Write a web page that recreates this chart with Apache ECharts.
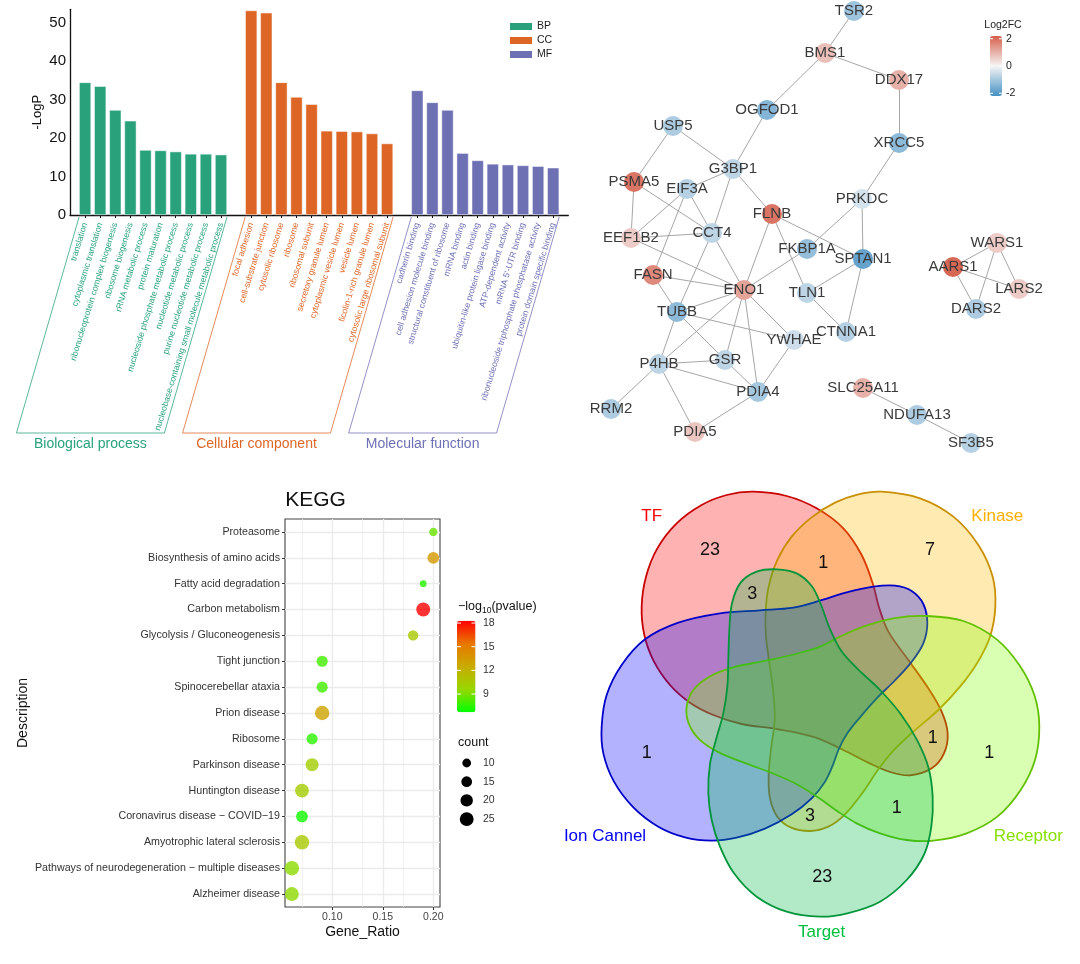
<!DOCTYPE html>
<html><head><meta charset="utf-8">
<script src="https://cdn.jsdelivr.net/npm/echarts@6/dist/echarts.min.js"></script>
<style>html,body{margin:0;padding:0;background:#fff}#c{width:1080px;height:964px}</style>
</head><body><div id="c"></div>
<script>
// ---------------- GO bar chart data ----------------
const bpTerms = ['translation','cytoplasmic translation','ribonucleoprotein complex biogenesis','ribosome biogenesis','rRNA metabolic process','protein maturation','nucleoside phosphate metabolic process','nucleotide metabolic process','purine nucleotide metabolic process','nucleobase-containing small molecule metabolic process'];
const bpValues = [34.5,33.5,27.3,24.5,16.9,16.8,16.5,15.9,15.9,15.7];
const ccTerms = ['focal adhesion','cell-substrate junction','cytosolic ribosome','ribosome','ribosomal subunit','secretory granule lumen','cytoplasmic vesicle lumen','vesicle lumen','ficolin-1-rich granule lumen','cytosolic large ribosomal subunit'];
const ccValues = [53.2,52.6,34.5,30.7,28.8,21.9,21.8,21.7,21.2,18.6];
const mfTerms = ['cadherin binding','cell adhesion molecule binding','structural constituent of ribosome','mRNA binding','actin binding','ubiquitin-like protein ligase binding','ATP-dependent activity',"mRNA 5'-UTR binding",'ribonucleoside triphosphate phosphatase activity','protein domain specific binding'];
const mfValues = [32.4,29.3,27.3,16.1,14.2,13.3,13.1,12.9,12.7,12.3];
const groupKeys = ['BP','CC','MF'];
const groupTitles = ['Biological process','Cellular component','Molecular function'];
const yTicksBar = [0,10,20,30,40,50];

// ---------------- Network data ----------------
const nodeNames = ['TSR2','BMS1','DDX17','OGFOD1','USP5','XRCC5','G3BP1','PSMA5','EIF3A','PRKDC','FLNB','CCT4','EEF1B2','FKBP1A','SPTAN1','AARS1','WARS1','FASN','ENO1','TLN1','LARS2','DARS2','TUBB','CTNNA1','YWHAE','GSR','P4HB','PDIA4','SLC25A11','NDUFA13','RRM2','PDIA5','SF3B5'];
const nodeX = [854,825,899,767,673,899,733,634,687,862,772,712,631,807,863,953,997,653,744,807,1019,976,677,846,794,725,659,758,863,917,611,695,971];
const nodeY = [11,53,80,110,126,143,169,182,189,199,214,233,238,249,259,267,243,275,290,293,289,309,312,332,340,360,364,392,388,415,409,432,443];
const nodeLog2FC = [-1.1,0.8,1.0,-1.4,-0.9,-1.3,-0.7,1.9,-0.8,-0.4,1.9,-0.7,0.6,-1.2,-1.8,2.1,0.6,1.6,1.2,-0.7,0.6,-0.9,-1.3,-0.8,-0.5,-0.7,-0.7,-1.0,1.0,-0.9,-0.9,0.7,-0.8];
const edgeFrom = ['TSR2','BMS1','BMS1','DDX17','OGFOD1','XRCC5','USP5','USP5','G3BP1','G3BP1','G3BP1','PSMA5','PSMA5','EIF3A','EIF3A','EIF3A','EEF1B2','EEF1B2','CCT4','CCT4','FLNB','FLNB','FLNB','PRKDC','PRKDC','FKBP1A','SPTAN1','SPTAN1','TLN1','FASN','FASN','ENO1','ENO1','ENO1','ENO1','ENO1','TUBB','TUBB','TUBB','YWHAE','P4HB','P4HB','P4HB','P4HB','PDIA4','GSR','WARS1','WARS1','WARS1','AARS1','AARS1','SLC25A11','NDUFA13'];
const edgeTo   = ['BMS1','DDX17','OGFOD1','XRCC5','G3BP1','PRKDC','PSMA5','G3BP1','EIF3A','CCT4','FLNB','EEF1B2','CCT4','EEF1B2','CCT4','FASN','CCT4','ENO1','ENO1','TUBB','ENO1','SPTAN1','TLN1','FKBP1A','SPTAN1','ENO1','TLN1','CTNNA1','CTNNA1','ENO1','TUBB','TUBB','P4HB','GSR','PDIA4','YWHAE','YWHAE','P4HB','GSR','PDIA4','GSR','PDIA4','RRM2','PDIA5','PDIA5','PDIA4','AARS1','DARS2','LARS2','LARS2','DARS2','NDUFA13','SF3B5'];
const fcTicks = [2,0,-2];

// ---------------- KEGG data ----------------
const keggTerms = ['Proteasome','Biosynthesis of amino acids','Fatty acid degradation','Carbon metabolism','Glycolysis / Gluconeogenesis','Tight junction','Spinocerebellar ataxia','Prion disease','Ribosome','Parkinson disease','Huntington disease','Coronavirus disease \u2212 COVID\u221219','Amyotrophic lateral sclerosis','Pathways of neurodegeneration \u2212 multiple diseases','Alzheimer disease'];
const keggRatio = [0.20,0.20,0.19,0.19,0.18,0.09,0.09,0.09,0.08,0.08,0.07,0.07,0.07,0.06,0.06];
const keggLogP = [8.7,13.5,7.3,18.3,10.5,7.9,7.9,13.0,7.5,10.2,10.3,7.0,10.5,9.3,9.4];
const keggCount = [9,18,6,25,14,16,16,27,16,22,25,18,27,27,25];
const keggXTicks = [0.10,0.15,0.20];
const keggXMinor = [0.075,0.125,0.175];
const pTicks = [18,15,12,9];
const countTicks = [10,15,20,25];

// ---------------- Venn data ----------------
const vennSetNames = ['TF','Kinase','Ion Cannel','Receptor','Target'];
const vennCounts = [23,1,7,3,1,1,1,1,3,23];
const vennCountX = [390,730,1050,517,200,1058,1228,950,690,727];
const vennCountY = [210,250,210,343,820,775,818,985,1008,1192];
const vennNameX = [215,1252,75,1345,725];
const vennNameY = [110,110,1068,1068,1357];
// outline points of each set (venn drawing units)
const vennShapeTF = [[520,35],[620,48],[710,85],[790,145],[845,225],[878,310],[898,385],[925,455],[985,540],[1045,625],[1085,695],[1103,760],[1092,820],[1055,865],[990,886],[930,876],[865,848],[790,810],[705,772],[590,747],[485,732],[400,705],[330,668],[270,615],[222,545],[193,465],[185,380],[198,290],[232,205],[290,130],[365,75],[440,45]];
const vennShapeKinase = [[905,35],[1020,55],[1120,110],[1195,195],[1238,290],[1246,380],[1230,470],[1192,548],[1140,620],[1075,690],[1000,755],[940,812],[895,868],[850,935],[795,1003],[745,1040],[690,1053],[632,1042],[592,1010],[570,955],[566,885],[574,800],[584,720],[580,640],[569,555],[558,470],[557,395],[566,320],[592,240],[635,170],[695,112],[765,68],[835,43]];
const vennShapeIon = [[65,740],[80,645],[125,555],[195,478],[295,428],[420,400],[540,391],[640,383],[720,362],[800,337],[880,320],[945,317],[995,333],[1030,372],[1042,430],[1030,490],[993,548],[943,603],[890,655],[840,712],[802,760],[776,808],[758,857],[735,905],[695,955],[635,1003],[555,1046],[470,1073],[395,1082],[315,1072],[235,1040],[160,982],[102,905],[70,820]];
const vennShapeReceptor = [[1040,408],[1150,423],[1250,478],[1320,558],[1364,648],[1378,740],[1365,840],[1322,930],[1252,1010],[1160,1060],[1060,1082],[980,1080],[900,1060],[830,1030],[770,992],[718,955],[655,915],[578,880],[498,850],[418,818],[358,778],[326,730],[320,680],[340,630],[388,590],[460,562],[558,542],[648,522],[720,500],[780,470],[850,440],[940,415]];
const vennShapeTarget = [[590,268],[650,280],[695,318],[722,372],[748,442],[782,510],[832,566],[900,630],[962,702],[1012,782],[1045,862],[1058,950],[1054,1040],[1033,1122],[980,1200],[900,1265],[802,1300],[720,1310],[620,1295],[530,1250],[462,1180],[420,1100],[395,1020],[385,940],[390,852],[410,772],[430,700],[442,620],[445,540],[448,450],[456,370],[482,308],[530,275]];

// ---------------- styling constants ----------------
const FONT = "'Liberation Sans', Arial, Helvetica, sans-serif";
const groupColors = ['#29A27C','#DD6626','#6E70B4'];
const vennFill = ['rgba(255,0,0,0.3)','rgba(255,188,0,0.3)','rgba(0,0,255,0.3)','rgba(128,255,0,0.3)','rgba(0,185,72,0.3)'];
const vennStroke = ['#c80000','#c98f00','#0000c8','#62c000','#00953a'];
const vennNameColor = ['#ff0000','#ffb000','#0000ee','#88e000','#00c040'];
const vennShapes = [vennShapeTF, vennShapeKinase, vennShapeIon, vennShapeReceptor, vennShapeTarget];
const gradKegg = ['#00FF00','#98D700','#C9AB00','#E87700','#FF0000'];
const gradFC = ['#4591c4','#f5f5f5','#d6604d'];
const pMin = 6.68, pMax = 18.3, fcMin = -2.2, fcMax = 2.2;
const sizeOf = c => 2.78 * Math.sqrt(c);

// build bar categories with blank separators
const groupTerms = [bpTerms, ccTerms, mfTerms];
const groupValues = [bpValues, ccValues, mfValues];
const barCats = [' '];
const barGroupOf = [-1];
groupTerms.forEach((terms, gi) => {
  terms.forEach(t => { barCats.push(t); barGroupOf.push(gi); });
  barCats.push(' '.repeat(gi + 2)); barGroupOf.push(-1);
});

const barSeries = groupKeys.map((k, gi) => ({
  type: 'bar', name: k, xAxisIndex: 0, yAxisIndex: 0, barWidth: 12, barGap: '-100%', silent: true,
  itemStyle: { color: groupColors[gi], borderColor: 'rgba(255,255,255,0.8)', borderWidth: 0.6 },
  data: groupTerms[gi].map((t, i) => [barCats.indexOf(t), groupValues[gi][i]])
}));

const nxMin = Math.min(...nodeX), nxMax = Math.max(...nodeX);
const nyMin = Math.min(...nodeY), nyMax = Math.max(...nodeY);

const chart = echarts.init(document.getElementById('c'));
const option = {
  animation: false,
  backgroundColor: '#fff',
  textStyle: { fontFamily: FONT },
  legend: {
    data: groupKeys, orient: 'vertical', left: 505, top: 16, itemWidth: 22, itemHeight: 7, itemGap: 3,
    icon: 'rect', selectedMode: false, textStyle: { fontSize: 10.5, color: '#222', fontFamily: FONT },
    itemStyle: { borderWidth: 0 }
  },
  grid: [
    { left: 70, top: 9.3, width: 33 * 15.1, height: 205.7 },
    { left: 285, top: 519, width: 155, height: 388, show: true, borderColor: '#444', borderWidth: 1.1, backgroundColor: '#fff' },
    { left: 580, top: 480, width: 500, height: 480, show: false }
  ],
  xAxis: [
    { type: 'category', gridIndex: 0, data: barCats, boundaryGap: false,
      axisLine: { lineStyle: { color: '#111', width: 1.3 } },
      axisTick: { length: 3, lineStyle: { color: '#111' }, interval: (i) => barGroupOf[i] >= 0 },
      axisLabel: { interval: 0, rotate: 73, fontSize: 8.6, margin: 8, color: (v, i) => { const gi = barGroupOf[barCats.indexOf(v)]; return gi >= 0 ? groupColors[gi] : '#fff'; } },
      splitLine: { show: false } },
    { type: 'value', gridIndex: 1, min: 0.0532, max: 0.2066,
      axisLine: { show: false },
      axisTick: { show: true, length: 3, lineStyle: { color: '#333' }, customValues: keggXTicks },
      axisLabel: { customValues: keggXTicks, formatter: v => v.toFixed(2), fontSize: 10.5, color: '#444', margin: 5 },
      splitLine: { show: false },
      name: 'Gene_Ratio', nameLocation: 'middle', nameGap: 18, nameTextStyle: { fontSize: 14, color: '#111' } },
    { type: 'value', gridIndex: 2, min: 0, max: 1500, show: false }
  ],
  yAxis: [
    { type: 'value', gridIndex: 0, min: 0, max: 53.5, interval: 10,
      axisLine: { show: true, lineStyle: { color: '#111', width: 1.3 } },
      axisTick: { show: false },
      axisLabel: { fontSize: 15, color: '#111', margin: 4, formatter: v => (yTicksBar.indexOf(v) >= 0 ? String(v) : '') },
      splitLine: { show: false },
      name: '-LogP', nameLocation: 'middle', nameGap: 26, nameTextStyle: { fontSize: 13, color: '#111' } },
    { type: 'category', gridIndex: 1, data: keggTerms, inverse: true,
      axisLine: { show: false },
      axisTick: { show: true, alignWithLabel: true, length: 3, lineStyle: { color: '#333' } },
      axisLabel: { interval: 0, fontSize: 10.7, color: '#333', margin: 5 },
      splitLine: { show: false },
      name: 'Description', nameLocation: 'middle', nameGap: 255, nameTextStyle: { fontSize: 14, color: '#111' } },
    { type: 'value', gridIndex: 2, min: 0, max: 1440, inverse: true, show: false }
  ],
  visualMap: [
    { type: 'continuous', seriesIndex: 3, min: fcMin, max: fcMax, inRange: { color: gradFC },
      left: 990, top: 36, itemWidth: 12, itemHeight: 60, calculable: false, padding: 0, orient: 'vertical' },
    { type: 'continuous', seriesIndex: 4, dimension: 2, min: pMin, max: pMax, inRange: { color: gradKegg },
      left: 457, top: 620.7, itemWidth: 18.5, itemHeight: 91.6, calculable: false, padding: 0, orient: 'vertical' }
  ],
  series: [
    ...barSeries,
    { type: 'graph', layout: 'none', left: nxMin, top: nyMin, width: nxMax - nxMin, height: nyMax - nyMin,
      roam: false, silent: true, symbol: 'circle', symbolSize: 20,
      label: { show: true, position: 'inside', fontSize: 15, color: '#3a3a3a', fontFamily: FONT },
      lineStyle: { color: '#a6a6a6', width: 1, opacity: 1, curveness: 0 },
      emphasis: { disabled: true },
      data: nodeNames.map((n, i) => ({ name: n, x: nodeX[i], y: nodeY[i], value: nodeLog2FC[i] })),
      links: edgeFrom.map((s, i) => ({ source: s, target: edgeTo[i] })) },
    { type: 'scatter', xAxisIndex: 1, yAxisIndex: 1, silent: true, z: 3,
      symbolSize: v => sizeOf(v[3]),
      data: keggTerms.map((t, i) => [keggRatio[i], i, keggLogP[i], keggCount[i]]),
      markLine: { silent: true, z: 1, symbol: ['none', 'none'], label: { show: false },
        lineStyle: { color: '#ebebeb', type: 'solid', width: 1.3 },
        data: [
          ...keggXTicks.map(v => ({ xAxis: v })),
          ...keggXMinor.map(v => ({ xAxis: v, lineStyle: { width: 0.8, color: '#ededed', type: 'solid' } })),
          ...keggTerms.map(t => ({ yAxis: t }))
        ] } },
    { type: 'custom', xAxisIndex: 2, yAxisIndex: 2, silent: true, clip: false,
      data: vennSetNames.map((n, i) => [i, 0]),
      renderItem: (params, api) => {
        const i = params.dataIndex;
        const pts = vennShapes[i].map(p => api.coord(p));
        return { type: 'polygon', shape: { points: pts, smooth: 0.35 },
          style: { fill: vennFill[i], stroke: vennStroke[i], lineWidth: 1.8 } };
      } },
    { type: 'custom', xAxisIndex: 2, yAxisIndex: 2, silent: true, clip: false, z: 5,
      data: vennCounts.map((c, i) => [vennCountX[i], vennCountY[i], c]),
      renderItem: (params, api) => {
        const p = api.coord([api.value(0), api.value(1)]);
        return { type: 'text', x: p[0], y: p[1],
          style: { text: String(api.value(2)), fill: '#111', fontSize: 18, fontFamily: FONT, align: 'center', verticalAlign: 'middle', textAlign: 'center', textVerticalAlign: 'middle' } };
      } },
    { type: 'custom', xAxisIndex: 2, yAxisIndex: 2, silent: true, clip: false, z: 5,
      data: vennSetNames.map((n, i) => [vennNameX[i], vennNameY[i], i]),
      renderItem: (params, api) => {
        const i = params.dataIndex;
        const p = api.coord([api.value(0), api.value(1)]);
        return { type: 'text', x: p[0], y: p[1],
          style: { text: vennSetNames[i], fill: vennNameColor[i], fontSize: 17, fontFamily: FONT, align: 'center', verticalAlign: 'middle', textAlign: 'center', textVerticalAlign: 'middle' } };
      } }
  ]
};
chart.setOption(option);

// ---------- annotations computed from the chart's own scales ----------
const G = [];
const txt = (x, y, text, size, color, align, extra) => ({ type: 'text', x, y, silent: true, z: 10,
  style: Object.assign({ text, fill: color, fontSize: size, fontFamily: FONT, align: align || 'left', textAlign: align || 'left', verticalAlign: 'middle', textVerticalAlign: 'middle' }, extra || {}) });

// GO brackets and group titles
const yBase = chart.convertToPixel({ yAxisIndex: 0 }, 0);
groupTerms.forEach((terms, gi) => {
  const xl = chart.convertToPixel({ xAxisIndex: 0 }, barCats.indexOf(terms[0])) - 6;
  const xr = chart.convertToPixel({ xAxisIndex: 0 }, barCats.indexOf(terms[terms.length - 1])) + 6;
  const yt = yBase + 2, yb = 433, d = (yb - yt) * 0.29;
  G.push({ type: 'polyline', silent: true, shape: { points: [[xl, yt], [xl - d, yb], [xr - d, yb], [xr, yt]] },
    style: { stroke: groupColors[gi], lineWidth: 0.9, fill: null, opacity: 0.85 } });
  G.push(txt((xl + xr) / 2 - d, 444, groupTitles[gi], 14, groupColors[gi], 'center'));
});

// Log2FC legend
G.push(txt(1003, 25, 'Log2FC', 10.5, '#222', 'center'));
fcTicks.forEach(v => {
  const y = 36 + (fcMax - v) / (fcMax - fcMin) * 60;
  G.push(txt(1006, y, String(v), 10.5, '#222', 'left'));
  G.push({ type: 'line', silent: true, z: 10, shape: { x1: 990, y1: y, x2: 993, y2: y }, style: { stroke: '#fff', lineWidth: 1 } });
  G.push({ type: 'line', silent: true, z: 10, shape: { x1: 999, y1: y, x2: 1002, y2: y }, style: { stroke: '#fff', lineWidth: 1 } });
});

// KEGG title
G.push(txt(315.5, 500, 'KEGG', 21, '#111', 'center'));

// -log10(pvalue) legend (main text + subscript)
G.push({ type: 'text', x: 458, y: 607, silent: true, z: 10,
  style: { text: '{a|\u2212log}{s|10}{a|(pvalue)}', fontFamily: FONT, verticalAlign: 'middle', textVerticalAlign: 'middle',
    rich: { a: { fontSize: 12.5, fill: '#111', lineHeight: 16, verticalAlign: 'middle', fontFamily: FONT },
            s: { fontSize: 8.5, fill: '#111', lineHeight: 8, verticalAlign: 'bottom', fontFamily: FONT } } } });
pTicks.forEach(v => {
  const y = 620.7 + (pMax - v) / (pMax - pMin) * 91.6;
  G.push(txt(483, y, String(v), 10.5, '#333', 'left'));
  G.push({ type: 'line', silent: true, z: 10, shape: { x1: 457, y1: y, x2: 461, y2: y }, style: { stroke: '#fff', lineWidth: 1 } });
  G.push({ type: 'line', silent: true, z: 10, shape: { x1: 471.5, y1: y, x2: 475.5, y2: y }, style: { stroke: '#fff', lineWidth: 1 } });
});

// count legend
G.push(txt(458, 743, 'count', 12.5, '#111', 'left'));
countTicks.forEach((v, i) => {
  const y = 763 + i * 18.7;
  G.push({ type: 'circle', silent: true, z: 10, shape: { cx: 466.7, cy: y, r: sizeOf(v) / 2 }, style: { fill: '#000' } });
  G.push(txt(483, y, String(v), 10.5, '#333', 'left'));
});

chart.setOption({ graphic: G });
</script></body></html>
